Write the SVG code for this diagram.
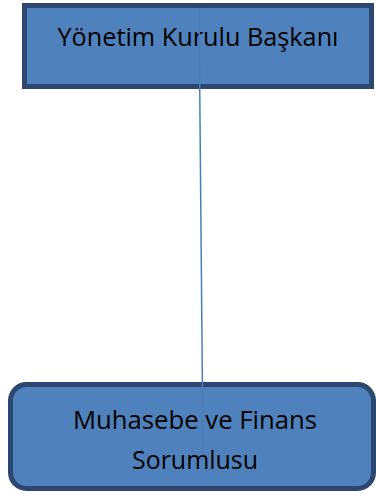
<svg xmlns="http://www.w3.org/2000/svg" width="376" height="492" viewBox="0 0 376 492">
<style>
.box{fill:#4f81bd;stroke:#2c4770;stroke-width:5}
.lbl{font-family:"Open Sans","Liberation Sans",sans-serif;font-size:25px;fill:#000;text-anchor:middle}
.conn{stroke:#4a7ebb;stroke-width:1.5;fill:none}
</style>
<rect width="376" height="492" fill="#fff"/>
<g id="node-baskan">
<rect class="box" x="24.5" y="5.5" width="347" height="81"/>
<text class="lbl" x="198" y="46" textLength="281" lengthAdjust="spacingAndGlyphs">Yönetim Kurulu Başkanı</text>
</g>
<g id="node-muhasebe">
<rect class="box" x="10.5" y="384.5" width="363" height="104" rx="16" ry="16"/>
<text class="lbl" x="195" y="429" textLength="244" lengthAdjust="spacingAndGlyphs">Muhasebe ve Finans</text>
<text class="lbl" x="195" y="469" textLength="126" lengthAdjust="spacingAndGlyphs">Sorumlusu</text>
</g>
<g id="connectors">
<line class="conn" x1="199" y1="8" x2="203" y2="453"/>
</g>
</svg>
